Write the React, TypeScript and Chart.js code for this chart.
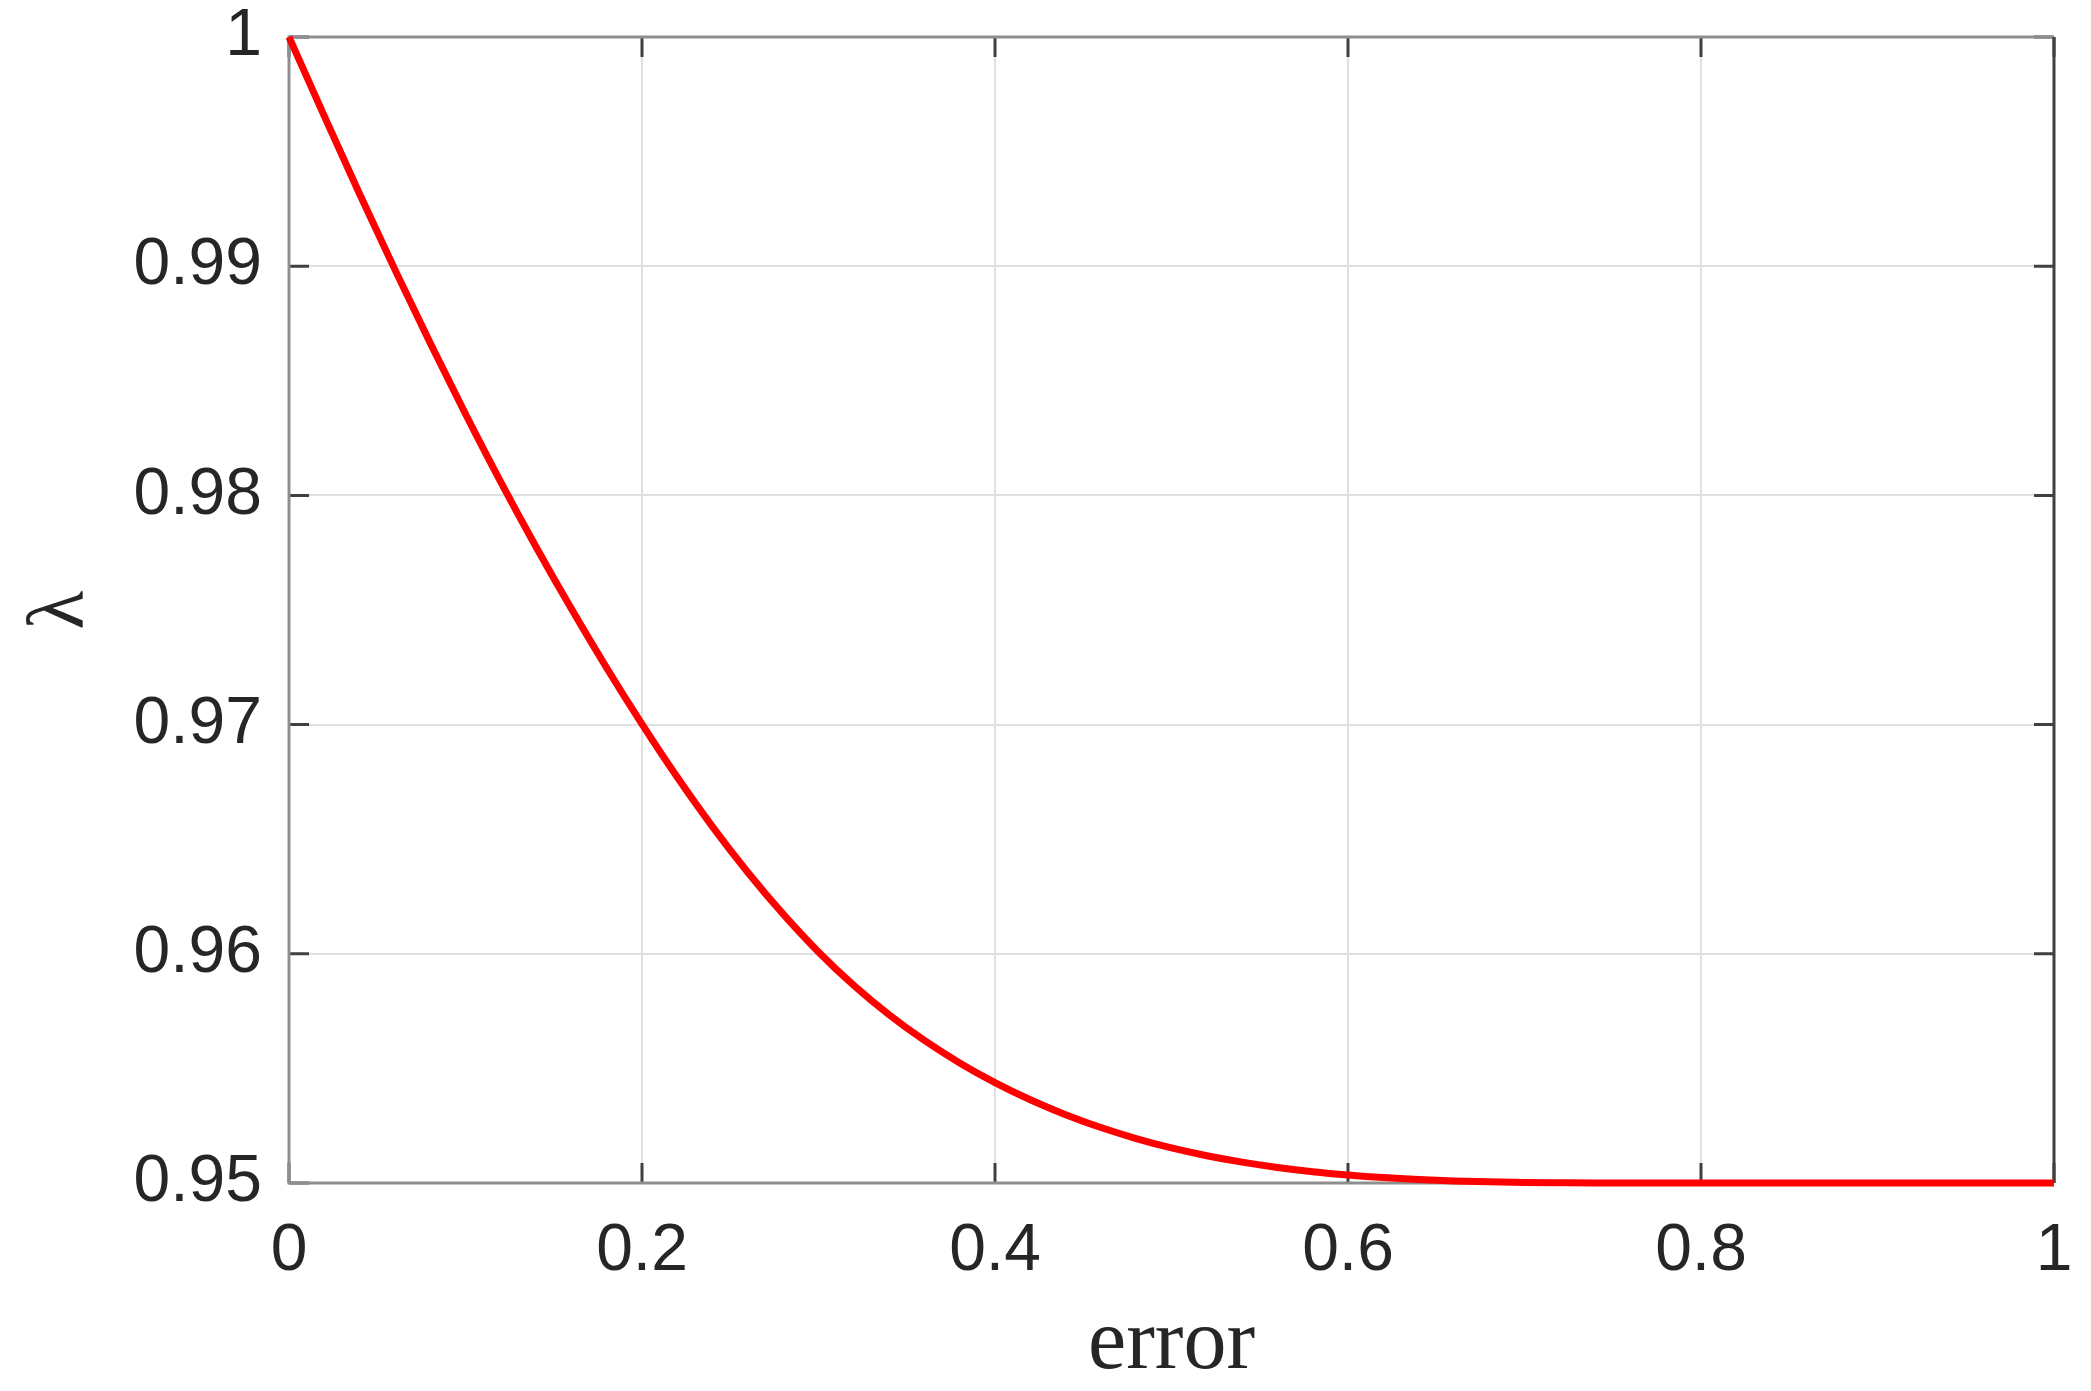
import React, { useEffect, useRef } from 'react';
import { Chart, registerables } from 'chart.js';

Chart.register(...registerables);

const errorValues = [0, 0.02, 0.04, 0.06, 0.08, 0.1, 0.12, 0.14, 0.16, 0.18, 0.2, 0.22, 0.24, 0.26, 0.28, 0.3, 0.32, 0.34, 0.36, 0.38, 0.4, 0.42, 0.44, 0.46, 0.48, 0.5, 0.52, 0.54, 0.56, 0.58, 0.6, 0.62, 0.64, 0.66, 0.68, 0.7, 0.72, 0.74, 0.8, 0.9, 1.0];
const lambdaValues = [1.0, 0.99655, 0.99315, 0.98985, 0.98665, 0.98355, 0.98058, 0.97775, 0.97505, 0.97247, 0.97002, 0.9677, 0.96554, 0.96355, 0.96173, 0.96008, 0.95862, 0.95734, 0.95622, 0.95524, 0.95438, 0.95363, 0.95298, 0.95242, 0.95194, 0.95153, 0.95119, 0.95091, 0.95068, 0.950495, 0.95035, 0.950235, 0.95015, 0.95009, 0.95005, 0.950025, 0.95001, 0.95, 0.95, 0.95, 0.95];

const xTickValues = [0, 0.2, 0.4, 0.6, 0.8, 1];
const xTickLabels = ['0', '0.2', '0.4', '0.6', '0.8', '1'];
const yTickValues = [0.95, 0.96, 0.97, 0.98, 0.99, 1];
const yTickLabels = ['0.95', '0.96', '0.97', '0.98', '0.99', '1'];
const xAxisTitle = 'error';
const yAxisTitle = 'λ';

const W = 2091;
const H = 1391;

const boxPlugin = {
  id: 'matlabBox',
  beforeDatasetsDraw(chart: any) {
    const { ctx, chartArea } = chart;
    const { left, right, top, bottom } = chartArea;
    const xs = chart.scales.x;
    const ys = chart.scales.y;
    ctx.save();
    ctx.strokeStyle = '#404040';
    ctx.lineWidth = 3;
    const tl = 20;
    ctx.beginPath();
    xTickValues.forEach((v) => {
      const px = xs.getPixelForValue(v);
      ctx.moveTo(px, bottom);
      ctx.lineTo(px, bottom - tl);
      ctx.moveTo(px, top);
      ctx.lineTo(px, top + tl);
    });
    yTickValues.forEach((v) => {
      const py = ys.getPixelForValue(v);
      ctx.moveTo(left, py);
      ctx.lineTo(left + tl, py);
      ctx.moveTo(right, py);
      ctx.lineTo(right - tl, py);
    });
    ctx.stroke();
    ctx.lineWidth = 3;
    ctx.strokeStyle = '#8e8e8e';
    ctx.beginPath();
    ctx.moveTo(right, top);
    ctx.lineTo(left, top);
    ctx.lineTo(left, bottom);
    ctx.lineTo(right, bottom);
    ctx.stroke();
    ctx.strokeStyle = '#404040';
    ctx.beginPath();
    ctx.moveTo(right, top);
    ctx.lineTo(right, bottom);
    ctx.stroke();
    ctx.restore();
  },
  afterDraw(chart: any) {
    const { ctx, chartArea } = chart;
    const cx = (chartArea.left + chartArea.right) / 2;
    const cy = (chartArea.top + chartArea.bottom) / 2;
    ctx.save();
    ctx.fillStyle = '#262626';
    ctx.font = '86px "Liberation Serif", "Times New Roman", serif';
    ctx.textAlign = 'center';
    ctx.textBaseline = 'alphabetic';
    ctx.fillText(xAxisTitle, cx, 1368);
    ctx.translate(56, cy);
    ctx.rotate(-Math.PI / 2);
    ctx.font = '80px "Liberation Serif", "DejaVu Serif", serif';
    ctx.fillText(yAxisTitle, 0, 27);
    ctx.restore();
  },
};

export default function App() {
  const canvasRef = useRef<HTMLCanvasElement | null>(null);

  useEffect(() => {
    const canvas = canvasRef.current;
    if (!canvas) return;
    const points = errorValues.map((e, i) => ({ x: e, y: lambdaValues[i] }));
    const tickFont = { family: '"Liberation Sans", Arial, sans-serif', size: 66 };
    const chart = new Chart(canvas, {
      type: 'line',
      data: {
        datasets: [
          {
            data: points,
            borderColor: '#ff0000',
            borderWidth: 7,
            pointRadius: 0,
            fill: false,
            cubicInterpolationMode: 'monotone',
            borderCapStyle: 'butt',
            borderJoinStyle: 'round',
            clip: false as any,
          },
        ],
      },
      options: {
        animation: false,
        responsive: false,
        devicePixelRatio: 1,
        layout: { padding: { left: 0, top: 37, right: 37, bottom: 0 } },
        plugins: { legend: { display: false }, tooltip: { enabled: false }, title: { display: false } },
        scales: {
          x: {
            type: 'linear',
            min: 0,
            max: 1,
            afterBuildTicks: (s: any) => {
              s.ticks = xTickValues.map((v) => ({ value: v }));
            },
            afterFit: (s: any) => {
              s.height = H - 1183;
              s.paddingLeft = 0;
              s.paddingRight = 0;
            },
            ticks: {
              font: tickFont,
              color: '#262626',
              padding: 29,
              maxRotation: 0,
              autoSkip: false,
              callback: (_v: any, i: number) => xTickLabels[i],
            },
            grid: { color: '#e0e0e0', lineWidth: 2, drawTicks: false },
            border: { display: false },
          },
          y: {
            type: 'linear',
            min: 0.95,
            max: 1,
            afterBuildTicks: (s: any) => {
              s.ticks = yTickValues.map((v) => ({ value: v }));
            },
            afterFit: (s: any) => {
              s.width = 289;
              s.paddingTop = 0;
              s.paddingBottom = 0;
            },
            ticks: {
              font: tickFont,
              color: '#262626',
              padding: 27,
              autoSkip: false,
              callback: (_v: any, i: number) => yTickLabels[i],
            },
            grid: { color: '#e0e0e0', lineWidth: 2, drawTicks: false },
            border: { display: false },
          },
        },
      } as any,
      plugins: [boxPlugin],
    });
    return () => chart.destroy();
  }, []);

  return (
    <div style={{ position: 'absolute', left: 0, top: 0, width: W, height: H, background: '#ffffff' }}>
      <canvas ref={canvasRef} width={W} height={H} style={{ display: 'block', width: W, height: H }} />
    </div>
  );
}
